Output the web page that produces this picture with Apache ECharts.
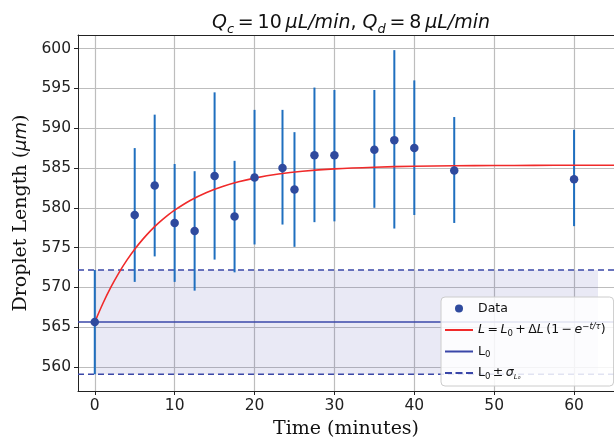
<!DOCTYPE html>
<html>
<head>
<meta charset="utf-8">
<script src="https://cdn.jsdelivr.net/npm/echarts@6/dist/echarts.min.js"></script>
<style>html,body{margin:0;padding:0;background:#fff}#c{width:614px;height:439px}</style>
</head>
<body>
<div id="c"></div>
<script>
// ---- data ----
const times    = [0, 5, 7.5, 10, 12.5, 15, 17.5, 20, 23.5, 25, 27.5, 30, 35, 37.5, 40, 45, 60];
const means    = [565.65, 579.1, 582.8, 578.1, 577.1, 584.0, 578.9, 583.8, 585.0, 582.3, 586.6, 586.6, 587.3, 588.5, 587.5, 584.7, 583.6];
const errHigh  = [572.2, 587.5, 591.7, 585.5, 584.6, 594.5, 585.9, 592.3, 592.3, 589.5, 595.1, 594.8, 594.8, 599.8, 596.0, 591.4, 589.8];
const errLow   = [559.1, 570.7, 573.9, 570.7, 569.6, 573.5, 571.9, 575.4, 577.9, 575.1, 578.2, 578.3, 580.0, 577.4, 579.1, 578.1, 577.7];
const fitT     = [0, 1, 2, 3, 4, 5, 6, 7, 8, 9, 10, 12, 14, 16, 18, 20, 23, 26, 30, 35, 40, 45, 50, 55, 60, 65];
const fitL     = [565.65, 567.96, 570.01, 571.81, 573.40, 574.80, 576.04, 577.14, 578.10, 578.95, 579.71, 580.95, 581.93, 582.68, 583.27, 583.73, 584.24, 584.59, 584.89, 585.10, 585.22, 585.28, 585.31, 585.33, 585.34, 585.34];
const L0 = 565.65;
const L0hi = 572.2;
const L0lo = 559.1;
const bandT = [0, 63];
const xTicks = [0, 10, 20, 30, 40, 50, 60];
const yTicks = [560, 565, 570, 575, 580, 585, 590, 595, 600];
const xRange = [-2.1, 65.0];
const yRange = [557.0, 601.7];

const chart = echarts.init(document.getElementById('c'), null, {renderer: 'canvas'});

const sans = 'DejaVu Sans';
const serif = 'DejaVu Serif';
const TS = '\u2009';

const legendRich = {
  n:  {fontFamily: sans, fontSize: 12.5, color: '#111', lineHeight: 16},
  i:  {fontFamily: sans, fontSize: 12.5, fontStyle: 'italic', color: '#111', lineHeight: 16},
  sb: {fontFamily: sans, fontSize: 8.5, color: '#111', lineHeight: 9, verticalAlign: 'bottom'},
  sp: {fontFamily: sans, fontSize: 8.5, fontStyle: 'italic', color: '#111', lineHeight: 9, verticalAlign: 'top'},
  ssb:{fontFamily: sans, fontSize: 7, fontStyle: 'italic', color: '#111', lineHeight: 7, verticalAlign: 'bottom'}
};
const legendText = {
  'Data': '{n|Data}',
  'fit': '{i|L}{n|' + TS + '=' + TS + '}{i|L}{sb|0}{n|' + TS + '+' + TS + 'Δ}{i|L}{n|' + TS + '(1' + TS + '−' + TS + '}{i|e}{sp|−t/τ}{n|)}',
  'L0': '{n|L}{sb|0}',
  'band': '{n|L}{sb|0}{n|' + TS + '±' + TS + '}{i|σ}{ssb|L₀}'
};

const lineIcon = 'path://M0,0 L28,0 L28,2 L0,2 Z';
const dashIcon = 'path://M0,0 h7 v2 h-7 Z M10.5,0 h7 v2 h-7 Z M21,0 h7 v2 h-7 Z';

const option = {
  animation: false,
  backgroundColor: '#ffffff',
  title: {
    text: '{i|Q}{sb|c}{n|' + TS + '=' + TS + '10' + TS + '}{i|μL/min}{n|, }{i|Q}{sb|d}{n|' + TS + '=' + TS + '8' + TS + '}{i|μL/min}',
    left: 346, top: 6, textAlign: 'center',
    textStyle: {
      fontWeight: 'normal',
      rich: {
        n:  {fontFamily: sans, fontSize: 19, fontWeight: 'normal', color: '#111', lineHeight: 25},
        i:  {fontFamily: sans, fontSize: 19, fontWeight: 'normal', fontStyle: 'italic', color: '#111', lineHeight: 25},
        sb: {fontFamily: sans, fontSize: 13, fontWeight: 'normal', fontStyle: 'italic', color: '#111', lineHeight: 13, verticalAlign: 'bottom'}
      }
    }
  },
  grid: {left: 78, top: 35, right: 0, bottom: 48, show: false,
         containLabel: false, outerBoundsMode: 'none'},
  legend: {
    orient: 'vertical', left: 441, top: 297,
    padding: [5, 8, 5, 4], itemGap: 7, itemWidth: 28, itemHeight: 8,
    backgroundColor: 'rgba(255,255,255,0.85)', borderColor: '#cccccc', borderWidth: 1, borderRadius: 4,
    data: [
      {name: 'Data', icon: 'circle'},
      {name: 'fit', icon: lineIcon},
      {name: 'L0', icon: lineIcon},
      {name: 'band', icon: dashIcon}
    ],
    formatter: name => legendText[name],
    textStyle: {rich: legendRich, fontFamily: sans, fontSize: 12.5}
  },
  xAxis: [{
    type: 'value', min: xRange[0], max: xRange[1], splitNumber: 7,
    axisLine: {show: true, onZero: false, lineStyle: {color: '#222', width: 1}},
    axisTick: {show: true, length: 4, lineStyle: {color: '#222'}, customValues: xTicks},
    axisLabel: {fontFamily: sans, fontSize: 15.5, color: '#222', margin: 7, customValues: xTicks},
    splitLine: {show: true, lineStyle: {color: '#bdbdbd', width: 1.2}},
    name: 'Time (minutes)', nameLocation: 'middle', nameGap: 29,
    nameTextStyle: {fontFamily: serif, fontSize: 19, color: '#111'}
  }, {
    type: 'value', position: 'top', min: xRange[0], max: xRange[1],
    axisLine: {show: true, onZero: false, lineStyle: {color: '#222', width: 1}},
    axisTick: {show: false}, axisLabel: {show: false}, splitLine: {show: false}
  }],
  yAxis: {
    type: 'value', min: yRange[0], max: yRange[1], splitNumber: 9,
    axisLine: {show: true, onZero: false, lineStyle: {color: '#222', width: 1}},
    axisTick: {show: true, length: 4, lineStyle: {color: '#222'}, customValues: yTicks},
    axisLabel: {fontFamily: sans, fontSize: 15.5, color: '#222', margin: 7, customValues: yTicks},
    splitLine: {show: true, lineStyle: {color: '#bdbdbd', width: 1.2}},
    name: '{s|Droplet Length (}{m|μm}{s|)}', nameLocation: 'middle', nameGap: 45,
    nameTextStyle: {
      rich: {
        s: {fontFamily: serif, fontSize: 19, color: '#111'},
        m: {fontFamily: sans, fontSize: 18, fontStyle: 'italic', color: '#111'}
      }
    }
  },
  series: [
    {
      name: 'band', type: 'line', symbol: 'none', z: 2,
      data: [[xRange[0], L0hi], [xRange[1], L0hi]],
      itemStyle: {color: '#3a47a8'},
      lineStyle: {color: '#3a47a8', width: 1.5, type: [6, 4]},
      markArea: {
        silent: true,
        itemStyle: {color: 'rgba(70,70,170,0.12)', borderWidth: 0},
        data: [[{xAxis: bandT[0], yAxis: L0lo}, {xAxis: bandT[1], yAxis: L0hi}]]
      }
    },
    {
      name: 'band', type: 'line', symbol: 'none', z: 2,
      data: [[xRange[0], L0lo], [xRange[1], L0lo]],
      itemStyle: {color: '#3a47a8'},
      lineStyle: {color: '#3a47a8', width: 1.5, type: [6, 4]}
    },
    {
      name: 'L0', type: 'line', symbol: 'none', z: 3,
      data: [[xRange[0], L0], [xRange[1], L0]],
      itemStyle: {color: '#3a47a8'},
      lineStyle: {color: '#3a47a8', width: 1.5}
    },
    {
      name: 'errbars', type: 'custom', z: 4,
      data: times.map((t, k) => [t, errLow[k], errHigh[k]]),
      encode: {x: 0, y: [1, 2]},
      renderItem: function (params, api) {
        const p1 = api.coord([api.value(0), api.value(1)]);
        const p2 = api.coord([api.value(0), api.value(2)]);
        return {type: 'line', shape: {x1: p1[0], y1: p1[1], x2: p2[0], y2: p2[1]},
                style: {stroke: '#1f6fbf', lineWidth: 2}};
      }
    },
    {
      name: 'fit', type: 'line', symbol: 'none', smooth: 0.3, z: 5,
      data: fitT.map((t, k) => [t, fitL[k]]),
      itemStyle: {color: '#f02a2a'},
      lineStyle: {color: '#f02a2a', width: 1.6}
    },
    {
      name: 'Data', type: 'scatter', symbol: 'circle', symbolSize: 8.5, z: 6,
      data: times.map((t, k) => [t, means[k]]),
      itemStyle: {color: '#2f4a9e', opacity: 1}
    }
  ]
};
chart.setOption(option);
</script>
</body>
</html>
